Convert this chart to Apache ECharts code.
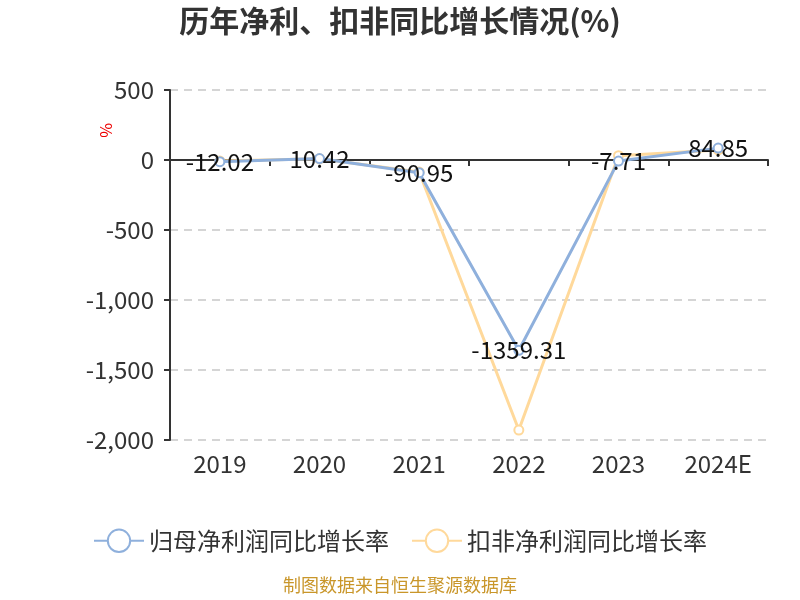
<!DOCTYPE html>
<html><head><meta charset="utf-8">
<script src="https://cdn.jsdelivr.net/npm/echarts@6/dist/echarts.min.js"></script>
<style>html,body{margin:0;padding:0;background:#fff}#c{width:800px;height:600px}</style>
</head><body><div id="c"></div>
<script>
var categories = ['2019','2020','2021','2022','2023','2024E'];
var netProfitGrowth = [-12.02, 10.42, -90.95, -1359.31, -7.71, 84.85];
var deductedGrowth = [-8, 9, -86, -1929, 31, 72];
var seriesNames = ['归母净利润同比增长率','扣非净利润同比增长率'];

var chart = echarts.init(document.getElementById('c'));
var font = '"Microsoft YaHei","Noto Sans CJK SC",sans-serif';
chart.setOption({
  textStyle:{fontFamily:font},
  title:{text:'历年净利、扣非同比增长情况(%)',left:'center',top:1,
    textStyle:{fontSize:30,fontWeight:'bold',color:'#333',fontFamily:font}},
  legend:{bottom:42,itemWidth:50,itemHeight:28,itemGap:22,
    textStyle:{fontSize:24,color:'#333'},
    data:seriesNames},
  grid:{left:170,right:32,top:90,bottom:160},
  graphic:[
    {type:'text',left:'center',top:576,style:{text:'制图数据来自恒生聚源数据库',fill:'#c9962a',fontSize:18,fontFamily:font}},
    {type:'text',x:114,y:123,rotation:-Math.PI/2,style:{text:'%',fill:'#e00',fontSize:16,fontFamily:font}}
  ],
  xAxis:[
    {type:'category',data:categories,boundaryGap:true,
      axisLine:{onZero:true,lineStyle:{color:'#333',width:2}},
      axisTick:{show:true,length:6,lineStyle:{color:'#333',width:2}},
      axisLabel:{show:false}},
    {type:'category',data:categories,position:'bottom',boundaryGap:true,
      axisLine:{show:false},axisTick:{show:false},
      axisLabel:{fontSize:24,color:'#333',margin:12}}
  ],
  yAxis:{type:'value',min:-2000,max:500,interval:500,
    axisLine:{show:true,lineStyle:{color:'#333',width:2}},
    axisTick:{show:true,length:6,lineStyle:{color:'#333',width:2}},
    axisLabel:{fontSize:24,color:'#333',margin:16},
    splitLine:{lineStyle:{type:[8,6],color:'#c8c8c8',width:1.5}}},
  series:[
    {name:seriesNames[0],type:'line',data:netProfitGrowth,symbol:'emptyCircle',symbolSize:9,
      itemStyle:{color:'#8fb0dc'},lineStyle:{width:3,color:'#8fb0dc'},
      label:{show:true,position:'inside',fontSize:24,color:'#111'},z:3},
    {name:seriesNames[1],type:'line',data:deductedGrowth,symbol:'emptyCircle',symbolSize:9,
      itemStyle:{color:'#ffd99b'},lineStyle:{width:3,color:'#ffd99b'},z:2}
  ]
});
</script></body></html>
